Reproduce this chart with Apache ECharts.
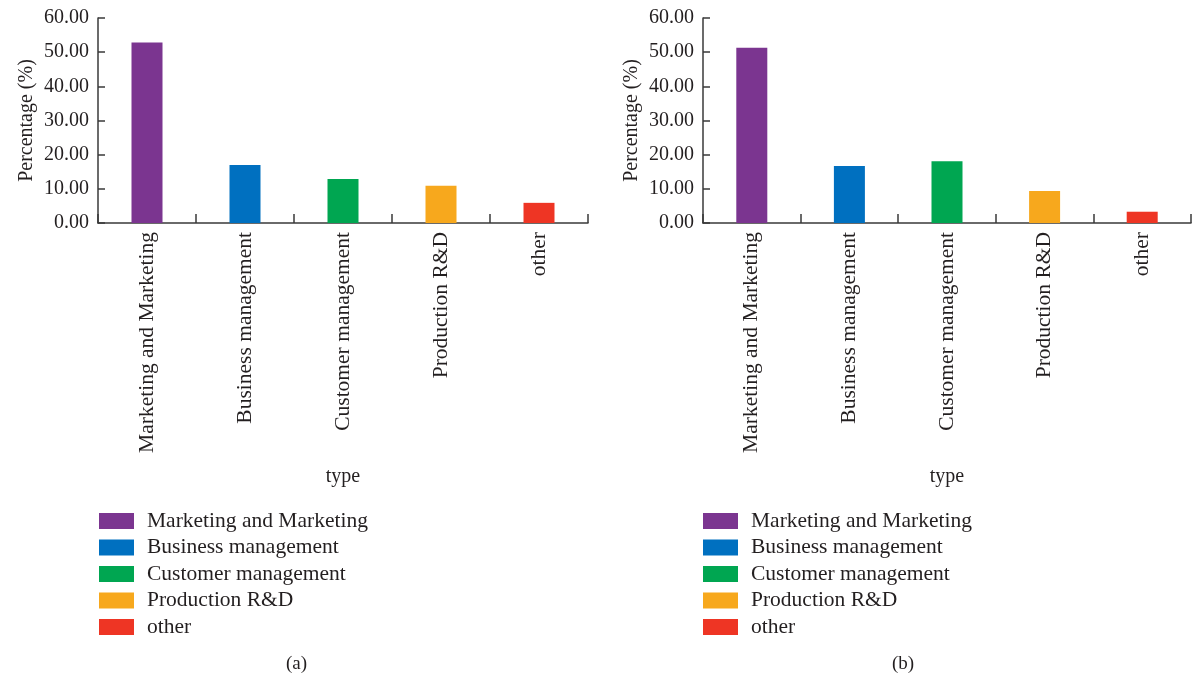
<!DOCTYPE html>
<html>
<head>
<meta charset="utf-8">
<script src="https://cdn.jsdelivr.net/npm/echarts@6/dist/echarts.min.js"></script>
<style>
  html, body { margin: 0; padding: 0; background: #fff; }
  #chart { width: 1192px; height: 680px; }
</style>
</head>
<body>
<div id="chart"></div>
<script>
// Job-type categories shared by both panels
var categories = ['Marketing and Marketing', 'Business management', 'Customer management', 'Production R&D', 'other'];
// Percentage shares per category, panel (a) and panel (b)
var valuesA = [52.8, 17.0, 12.9, 10.9, 5.9];
var valuesB = [51.3, 16.7, 18.1, 9.4, 3.3];
// Y-axis ticks
var yMin = 0, yMax = 60, yStep = 10;
var panelCaptions = ['(a)', '(b)'];

var colors = ['#7B3590', '#0070C0', '#00A651', '#F7A81D', '#EE3524'];
var FONT = 'Liberation Serif';
var FS = 21.5;
var ink = '#231F20';

var panels = [
  { left: 98, width: 490, legendLeft: 99, values: valuesA, captionX: 297 },
  { left: 703, width: 488, legendLeft: 703, values: valuesB, captionX: 903 }
];

var grids = [], xAxes = [], yAxes = [], series = [], legends = [], graphics = [];

panels.forEach(function (p, pi) {
  grids.push({ left: p.left, width: p.width, top: 18, height: 205, containLabel: false });
  xAxes.push({
    type: 'category', gridIndex: pi, data: categories,
    name: 'type', nameLocation: 'middle', nameGap: 244,
    nameTextStyle: { fontFamily: FONT, fontSize: 20, color: ink },
    axisLine: { lineStyle: { color: '#3a3a3a', width: 1.5 } },
    axisTick: { show: true, inside: true, length: 9, alignWithLabel: false, lineStyle: { color: '#3a3a3a', width: 1.5 } },
    axisLabel: { rotate: 90, margin: 9, fontFamily: FONT, fontSize: FS, color: ink, interval: 0 },
    splitLine: { show: false }
  });
  yAxes.push({
    type: 'value', gridIndex: pi, min: yMin, max: yMax, interval: yStep,
    name: 'Percentage (%)', nameLocation: 'middle', nameGap: 61, nameRotate: 90,
    nameTextStyle: { fontFamily: FONT, fontSize: 20, color: ink },
    axisLine: { show: true, lineStyle: { color: '#3a3a3a', width: 1.5 } },
    axisTick: { show: true, inside: true, length: 7, lineStyle: { color: '#3a3a3a', width: 1.5 } },
    axisLabel: { margin: 9, fontFamily: FONT, fontSize: 20, color: ink, formatter: function (v) { return v.toFixed(2); } },
    splitLine: { show: false }
  });
  categories.forEach(function (c, ci) {
    var d = categories.map(function (_, k) { return k === ci ? p.values[ci] : '-'; });
    series.push({
      name: c, type: 'bar', xAxisIndex: pi, yAxisIndex: pi, stack: 'panel' + pi,
      barWidth: 31, data: d, itemStyle: { color: colors[ci] }, silent: true
    });
  });
  legends.push({
    data: categories, orient: 'vertical', left: p.legendLeft, top: 510, padding: 0,
    icon: 'rect', itemWidth: 35, itemHeight: 16, itemGap: 4.5,
    textStyle: { fontFamily: FONT, fontSize: FS, lineHeight: 21, color: ink, padding: [0, 0, 0, 8] },
    selectedMode: false
  });
  graphics.push({
    type: 'text', left: p.captionX - 11, top: 655,
    style: { text: panelCaptions[pi], font: '19px "' + FONT + '"', fill: ink }
  });
});

var chart = echarts.init(document.getElementById('chart'), null, { renderer: 'canvas' });
chart.setOption({
  backgroundColor: '#fff',
  animation: false,
  color: colors,
  grid: grids,
  xAxis: xAxes,
  yAxis: yAxes,
  legend: legends,
  series: series,
  graphic: graphics
});
</script>
</body>
</html>
